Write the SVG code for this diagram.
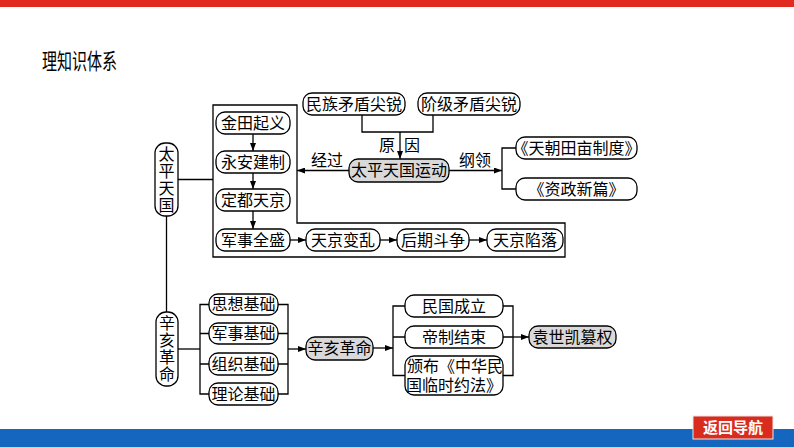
<svg xmlns="http://www.w3.org/2000/svg" width="794" height="447" viewBox="0 0 794 447">
<style>
.b{fill:#fff;stroke:#000;stroke-width:1.3}
.g{fill:#d9d9d9;stroke:#000;stroke-width:1.3}
.ln{fill:none;stroke:#000;stroke-width:1.3}
.t{font-family:"Noto Sans CJK SC","Noto Sans CJK JP",sans-serif;font-size:16px;text-anchor:middle;fill:#000}
.v{writing-mode:vertical-rl;letter-spacing:1px}
</style>
<defs>
<marker id="ah" markerUnits="userSpaceOnUse" markerWidth="8" markerHeight="6" refX="8" refY="3" orient="auto">
<path d="M0,0 L8,3 L0,6 z" fill="#000"/>
</marker>
</defs>
<rect x="0" y="0" width="794" height="7" fill="#e12a1f"/>
<text x="42" y="69" font-family="'Noto Sans CJK SC',sans-serif" font-size="22" textLength="75" lengthAdjust="spacingAndGlyphs">理知识体系</text>

<g id="connectors">
<line class="ln" x1="178" y1="179.5" x2="213" y2="179.5"/>
<path class="ln" d="M213,105 H297 V223 H565 V257 H213 Z"/>
<line class="ln" x1="253" y1="134" x2="253" y2="151" marker-end="url(#ah)"/>
<line class="ln" x1="253" y1="173" x2="253" y2="189" marker-end="url(#ah)"/>
<line class="ln" x1="253" y1="211" x2="253" y2="229" marker-end="url(#ah)"/>
<line class="ln" x1="290" y1="240" x2="306" y2="240" marker-end="url(#ah)"/>
<line class="ln" x1="380" y1="240" x2="397" y2="240" marker-end="url(#ah)"/>
<line class="ln" x1="469" y1="240" x2="487" y2="240" marker-end="url(#ah)"/>
<path class="ln" d="M362,115 V132 H433 V115"/>
<line class="ln" x1="400" y1="132" x2="400" y2="159" marker-end="url(#ah)"/>
<text class="t" x="387" y="151">原</text>
<text class="t" x="412" y="151">因</text>
<line class="ln" x1="349" y1="170.5" x2="297" y2="170.5" marker-end="url(#ah)"/>
<text class="t" x="327" y="166">经过</text>
<line class="ln" x1="449" y1="170.5" x2="502" y2="170.5" marker-end="url(#ah)"/>
<text class="t" x="475" y="166">纲领</text>
<path class="ln" d="M516,148 H502 V189 H516"/>
<line class="ln" x1="166.5" y1="216" x2="166.5" y2="312"/>
<line class="ln" x1="178" y1="349" x2="200" y2="349"/>
<path class="ln" d="M209,304.5 H200 V394 H209 M200,333.5 H209 M200,364 H209"/>
<path class="ln" d="M278,304.5 H288 V394 H278 M278,333.5 H288 M278,364 H288"/>
<line class="ln" x1="288" y1="349" x2="306" y2="349" marker-end="url(#ah)"/>
<line class="ln" x1="373" y1="348" x2="393" y2="348" marker-end="url(#ah)"/>
<path class="ln" d="M405,306 H393 V375.5 H405 M393,337 H405"/>
<path class="ln" d="M503,306 H513 V375.5 H503 M503,337 H513"/>
<line class="ln" x1="513" y1="337" x2="529" y2="337" marker-end="url(#ah)"/>
</g>

<g id="n-tptg"><rect class="b" x="155" y="143" width="23" height="73" rx="10"/>
<text class="t v" x="166.5" y="179.5">太平天国</text></g>
<g id="n-jtqy"><rect class="b" x="216" y="112" width="74" height="22" rx="9"/><text class="t" x="253" y="128.5">金田起义</text></g>
<g id="n-yajz"><rect class="b" x="216" y="151" width="74" height="22" rx="9"/><text class="t" x="253" y="167.5">永安建制</text></g>
<g id="n-ddtj"><rect class="b" x="216" y="189" width="74" height="22" rx="9"/><text class="t" x="253" y="205.5">定都天京</text></g>
<g id="n-jsqs"><rect class="b" x="216" y="229" width="74" height="22" rx="9"/><text class="t" x="253" y="245.5">军事全盛</text></g>
<g id="n-tjbl"><rect class="b" x="306" y="229" width="74" height="22" rx="9"/><text class="t" x="343" y="245.5">天京变乱</text></g>
<g id="n-hqdz"><rect class="b" x="397" y="229" width="72" height="22" rx="9"/><text class="t" x="433" y="245.5">后期斗争</text></g>
<g id="n-tjxl"><rect class="b" x="487" y="229" width="76" height="22" rx="9"/><text class="t" x="525" y="245.5">天京陷落</text></g>
<g id="n-mz"><rect class="b" x="303" y="93" width="102" height="22" rx="9"/><text class="t" x="354" y="109.5">民族矛盾尖锐</text></g>
<g id="n-jj"><rect class="b" x="418" y="93" width="102" height="22" rx="9"/><text class="t" x="469" y="109.5">阶级矛盾尖锐</text></g>
<g id="n-tpyd"><rect class="g" x="349" y="159" width="100" height="23" rx="9"/><text class="t" x="399" y="176">太平天国运动</text></g>
<g id="n-tcty"><rect class="b" x="516" y="137" width="121" height="22" rx="9"/><text class="t" x="576.5" y="153.5" font-size="15">《天朝田亩制度》</text></g>
<g id="n-zzxp"><rect class="b" x="516" y="178" width="121" height="22" rx="9"/><text class="t" x="576.5" y="194.5" font-size="15">《资政新篇》</text></g>
<g id="n-xhgm-v"><rect class="b" x="156" y="312" width="22" height="74" rx="10"/>
<text class="t v" x="167" y="349">辛亥革命</text></g>
<g id="n-sx"><rect class="b" x="209" y="294" width="69" height="21" rx="9"/><text class="t" x="243.5" y="310">思想基础</text></g>
<g id="n-js"><rect class="b" x="209" y="323" width="69" height="21" rx="9"/><text class="t" x="243.5" y="339">军事基础</text></g>
<g id="n-zz"><rect class="b" x="209" y="353" width="69" height="22" rx="9"/><text class="t" x="243.5" y="369.5">组织基础</text></g>
<g id="n-ll"><rect class="b" x="209" y="383" width="69" height="22" rx="9"/><text class="t" x="243.5" y="399.5">理论基础</text></g>
<g id="n-xhgm"><rect class="g" x="306" y="337" width="67" height="23" rx="9"/><text class="t" x="339.5" y="354">辛亥革命</text></g>
<g id="n-mgcl"><rect class="b" x="405" y="295" width="98" height="22" rx="9"/><text class="t" x="454" y="311.5">民国成立</text></g>
<g id="n-dzjs"><rect class="b" x="405" y="326" width="98" height="22" rx="9"/><text class="t" x="454" y="342.5">帝制结束</text></g>
<g id="n-bb"><rect class="b" x="405" y="356" width="98" height="39" rx="9"/><text class="t" font-size="15"><tspan x="455" y="371.5">颁布《中华民</tspan><tspan x="454" y="390.5">国临时约法》</tspan></text></g>
<g id="n-ysk"><rect class="g" x="529" y="326" width="87" height="22" rx="9"/><text class="t" x="572.5" y="342.5">袁世凯篡权</text></g>

<rect x="0" y="429" width="794" height="18" fill="#1466be"/>
<g id="btn"><rect x="693" y="416" width="80" height="23" fill="#d92b1e" stroke="#e8e8e8" stroke-width="1"/>
<text x="733" y="433" font-family="'Noto Sans CJK SC',sans-serif" font-size="15" font-weight="bold" fill="#fff" text-anchor="middle">返回导航</text></g>
</svg>
